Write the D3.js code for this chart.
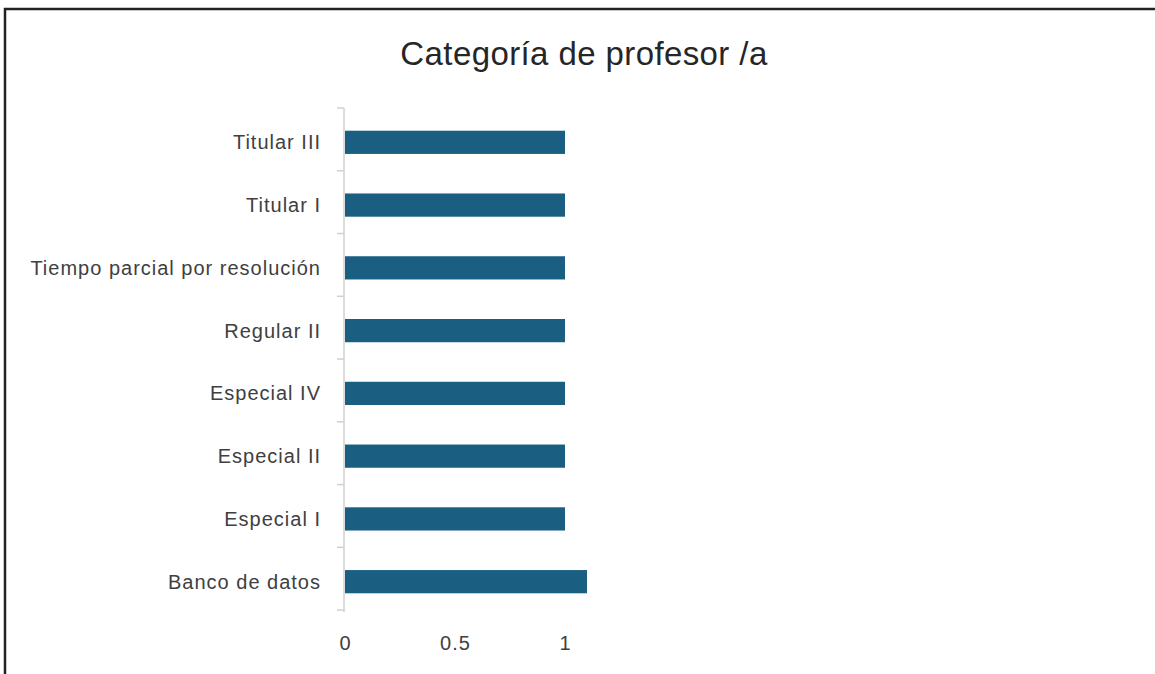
<!DOCTYPE html>
<html>
<head>
<meta charset="utf-8">
<script src="https://cdn.jsdelivr.net/npm/d3@7"></script>
<style>
  html, body { margin: 0; padding: 0; background: #fff; }
  svg { display: block; }
</style>
</head>
<body>
<svg id="chart"></svg>
<script>
const WIDTH = 1155;
const HEIGHT = 674;

const TITLE = "Categoría de profesor /a";

// top to bottom as drawn
const categories = [
  "Titular III",
  "Titular I",
  "Tiempo parcial por resolución",
  "Regular II",
  "Especial IV",
  "Especial II",
  "Especial I",
  "Banco de datos"
];
const values = [1, 1, 1, 1, 1, 1, 1, 1.1];
const xTicks = [0, 0.5, 1];

const AXIS_X = 344;
const TOP = 108;
const BOTTOM = 612;
const FONT = "'Liberation Sans', Arial, sans-serif";

const svg = d3.select("#chart").attr("width", WIDTH).attr("height", HEIGHT);

// outer frame (runs off the right and bottom edges)
svg.append("rect")
  .attr("x", 5)
  .attr("y", 9)
  .attr("width", 1300)
  .attr("height", 800)
  .attr("fill", "#fff")
  .attr("stroke", "#222")
  .attr("stroke-width", 2.5);

svg.append("text")
  .attr("x", 584)
  .attr("y", 65)
  .attr("text-anchor", "middle")
  .style("font-family", FONT)
  .style("font-size", "33px")
  .style("letter-spacing", "0.4px")
  .style("fill", "#262626")
  .text(TITLE);

const x = d3.scaleLinear().domain([0, 1]).range([AXIS_X + 1, 565]);

const y = d3.scaleBand()
  .domain(categories)
  .range([TOP, BOTTOM])
  .paddingInner(0.63)
  .paddingOuter(0.33);

// bars
svg.append("g")
  .selectAll("rect")
  .data(categories)
  .join("rect")
  .attr("x", x(0))
  .attr("y", (d) => y(d) + 2)
  .attr("width", (d, i) => x(values[i]) - x(0))
  .attr("height", y.bandwidth())
  .attr("fill", "#1a5e82");

// category axis: line plus ticks at band boundaries
const step = y.step();
const yAxisG = svg.append("g");
yAxisG.append("line")
  .attr("x1", AXIS_X).attr("x2", AXIS_X)
  .attr("y1", TOP).attr("y2", BOTTOM)
  .attr("stroke", "#d0d0d0")
  .attr("stroke-width", 1.5);
yAxisG.selectAll("line.tick")
  .data(d3.range(categories.length + 1))
  .join("line")
  .attr("class", "tick")
  .attr("x1", AXIS_X - 7).attr("x2", AXIS_X)
  .attr("y1", (i) => TOP + i * step)
  .attr("y2", (i) => TOP + i * step)
  .attr("stroke", "#d0d0d0")
  .attr("stroke-width", 1.5);

yAxisG.selectAll("text")
  .data(categories)
  .join("text")
  .attr("x", 321)
  .attr("y", (d) => y(d) + y.bandwidth() / 2 + 2)
  .attr("dy", "0.35em")
  .attr("text-anchor", "end")
  .style("font-family", FONT)
  .style("font-size", "20px")
  .style("letter-spacing", "1px")
  .style("fill", "#404040")
  .text((d) => d);

// value axis labels (no line)
const xAxis = d3.axisBottom(x).tickValues(xTicks).tickSize(0).tickPadding(0)
  .tickFormat(d3.format("~g"));
const xAxisG = svg.append("g")
  .attr("transform", `translate(0, ${BOTTOM + 24})`)
  .call(xAxis);
xAxisG.select(".domain").remove();
xAxisG.selectAll("text")
  .style("font-family", FONT)
  .style("font-size", "20px")
  .style("letter-spacing", "1px")
  .style("fill", "#404040");
</script>
</body>
</html>
